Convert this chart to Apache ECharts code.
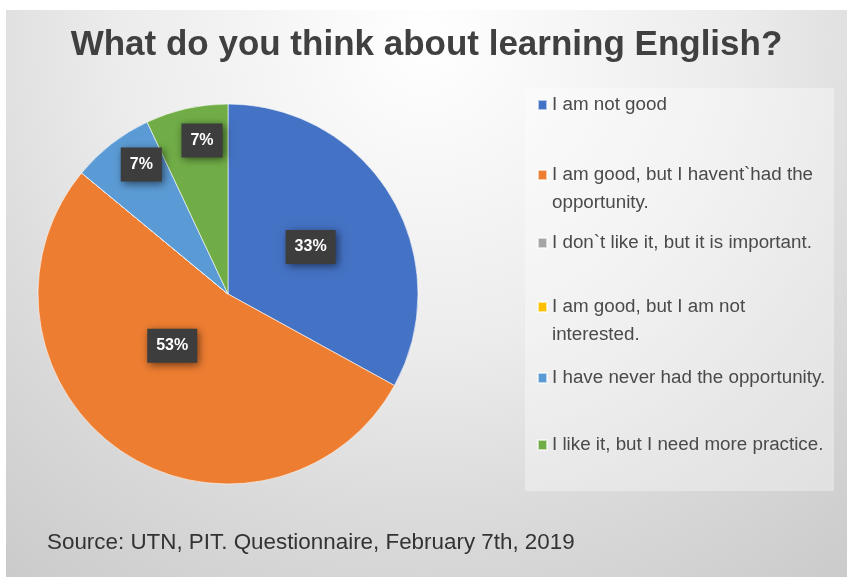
<!DOCTYPE html>
<html><head><meta charset="utf-8">
<script src="https://cdn.jsdelivr.net/npm/echarts@6/dist/echarts.min.js"></script>
<style>
html,body{margin:0;padding:0;background:#fff;width:847px;height:577px;overflow:hidden}
#c{position:absolute;left:6px;top:10px;width:841px;height:567px}
</style>
</head><body><div id="c"></div>
<script>
// ---- data ----
const titleText = 'What do you think about learning English?';
const sourceText = 'Source: UTN, PIT. Questionnaire, February 7th, 2019';
const categories = [
  'I am not good',
  'I am good, but I havent`had the\nopportunity.',
  'I don`t like it, but it is important.',
  'I am good, but I am not\ninterested.',
  'I have never had the opportunity.',
  'I like it, but I need more practice.'
];
const percentValues = [33, 53, 0, 0, 7, 7];

// ---- styles / layout ----
const sliceColors = ['#4472C4', '#ED7D31', '#A5A5A5', '#FFC000', '#5B9BD5', '#70AD47'];
const pieCenter = [222, 284];
const pieRadius = 190;
const labelRadiusFrac = [0.5, 0.4, 0.5, 0.5, 0.82, 0.82];
const labelAngleShift = [1, 13, 0, 0, 4, 3];
const legendIconCenters = [95, 165, 233, 297, 368, 435];
const legendLineHeight = 28;

const chart = echarts.init(document.getElementById('c'), null, {renderer: 'canvas'});

const pieData = categories.map((name, i) => ({
  name: name,
  value: percentValues[i],
  itemStyle: {color: sliceColors[i]},
  label: {show: percentValues[i] > 0}
}));

const legends = categories.map((name, i) => {
  const lines = name.split('\n').length;
  // extra blank lines above so the first text line sits beside the icon
  const totalLines = lines + (lines - 1);
  return {
    data: [name],
    orient: 'vertical',
    left: 531,
    top: legendIconCenters[i] - totalLines * legendLineHeight / 2,
    padding: 0,
    itemWidth: 9,
    itemHeight: 10,
    icon: 'rect',
    selectedMode: false,
    formatter: function (n) {
      return ' \n'.repeat(lines - 1) + n;
    },
    textStyle: {
      fontFamily: 'Liberation Sans',
      fontSize: 18.8,
      color: '#4a4a4a',
      lineHeight: legendLineHeight
    }
  };
});

chart.setOption({
  animation: false,
  graphic: [
    {
      type: 'rect', left: 0, top: 0, z: -10, silent: true,
      shape: {width: 841, height: 567},
      style: {
        fill: {
          type: 'radial', x: 0.5, y: 0.05, r: 1.2,
          colorStops: [
            {offset: 0, color: '#ffffff'},
            {offset: 0.45, color: '#ececec'},
            {offset: 0.7, color: '#dbdbdb'},
            {offset: 1, color: '#cbcbcb'}
          ]
        }
      }
    },
    {
      type: 'rect', left: 519, top: 78, z: -5, silent: true,
      shape: {width: 309, height: 403},
      style: {fill: 'rgba(255,255,255,0.35)'}
    }
  ],
  title: [
    {
      text: titleText,
      left: 'center',
      top: 13,
      textStyle: {fontFamily: 'Liberation Sans', fontWeight: 'bold', fontSize: 35, color: '#404040'}
    },
    {
      text: sourceText,
      left: 36,
      top: 517,
      textStyle: {fontFamily: 'Liberation Sans', fontWeight: 'normal', fontSize: 22.4, color: '#333333'}
    }
  ],
  legend: legends,
  series: [{
    type: 'pie',
    center: pieCenter,
    radius: [0, pieRadius],
    startAngle: 90,
    clockwise: true,
    percentPrecision: 0,
    emphasis: {disabled: true},
    itemStyle: {borderColor: 'rgba(255,255,255,0.6)', borderWidth: 1},
    label: {
      position: 'inside',
      formatter: '{d}%',
      color: '#ffffff',
      fontFamily: 'Liberation Sans',
      fontWeight: 'bold',
      fontSize: 16,
      backgroundColor: '#3d3d3d',
      padding: [9, 9],
      shadowColor: 'rgba(0,0,0,0.55)',
      shadowBlur: 8,
      shadowOffsetX: 2,
      shadowOffsetY: 2
    },
    labelLine: {show: false},
    labelLayout: function (p) {
      const r = p.labelRect;
      const cx = r.x + r.width / 2, cy = r.y + r.height / 2;
      const vx = cx - pieCenter[0], vy = cy - pieCenter[1];
      const theta = Math.atan2(vx, -vy) + labelAngleShift[p.dataIndex] * Math.PI / 180;
      const d = labelRadiusFrac[p.dataIndex] * pieRadius;
      const nx = pieCenter[0] + d * Math.sin(theta);
      const ny = pieCenter[1] - d * Math.cos(theta);
      return {dx: nx - cx, dy: ny - cy};
    },
    data: pieData
  }]
});
</script>
</body></html>
